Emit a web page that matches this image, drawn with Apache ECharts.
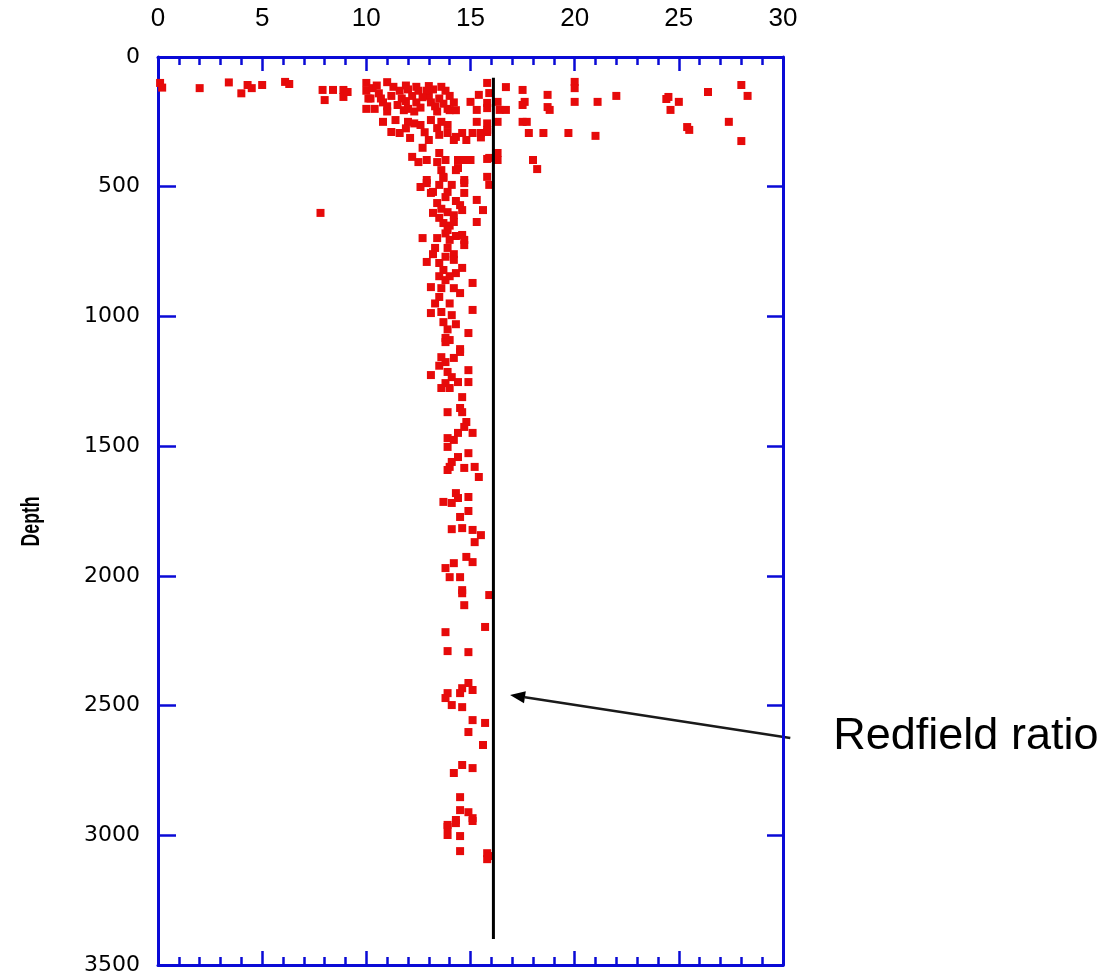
<!DOCTYPE html>
<html>
<head>
<meta charset="utf-8">
<title>N:P ratio vs depth</title>
<script src="https://cdn.jsdelivr.net/npm/echarts@6/dist/echarts.min.js"></script>
<style>
  html, body { margin: 0; padding: 0; background: #ffffff; }
  #chart { width: 1112px; height: 980px; }
</style>
</head>
<body>
<div id="chart"></div>
<script>
// N:P ratio samples, [ratio, depth in m], grouped by depth band
const upperPoints = [
  [0.1,100],[0.2,118],[2.0,120],[3.4,98],[4.3,108],[4.5,120],[4.0,140],[5.0,108],[6.1,96],[6.3,104],
  [7.9,127],[8.4,127],[8.9,127],[8.0,166],[8.9,154],[9.1,135],
  [10.0,100],[10.0,130],[10.1,160],[10.0,200],
  [11.0,97],[10.3,120],[10.6,140],[10.2,160],[10.8,175],[10.4,200],[11.0,190],
  [10.5,110],[11.3,115],[11.9,110],[12.4,115],[13.0,112],[13.6,115],
  [10.7,160],[11.2,150],[11.9,170],[12.4,175],[13.0,150],[13.7,180],[11.0,210],[11.8,205],[12.3,210],[13.4,210],
  [11.6,130],[12.0,125],[12.5,130],[12.9,130],[11.7,160],[12.2,150],[12.7,155],[11.5,185],[12.0,200],[12.6,195],[13.1,175],
  [13.2,125],[13.8,130],[13.5,160],[14.0,150],[13.3,190],[13.9,200],[14.2,175],[14.0,205],[14.3,205],
  [10.8,250],[11.4,243],[12.0,250],[12.3,256],[13.1,243],[13.6,250],[13.9,262],
  [12.6,262],[11.9,275],[12.8,290],[13.0,320],[14.8,320],[15.5,310],
  [11.2,289],[11.6,293],[12.1,312],[13.4,274],[13.5,300],[13.9,293],[14.3,308],[14.6,293],[14.2,320],
  [15.1,293],[15.5,293],[15.8,289],[15.3,250],[15.8,256],[15.8,281],
  [15.0,173],[15.4,146],[15.9,139],[15.8,100],[15.8,177],[15.3,204],[15.8,197],
  [16.3,173],[16.4,204],[16.7,204],[16.3,250],[16.7,116],
  [17.5,127],[17.6,173],[17.5,185],[17.5,250],[17.7,250],[17.8,293],
  [18.5,293],[18.7,146],[18.7,193],[18.8,204],[19.7,293],[20.0,96],[20.0,120],[20.0,173],
  [21.1,173],[22.0,150],[24.4,162],[24.5,154],[25.0,173],[24.6,204],[25.4,270],[25.5,281],
  [26.4,135],[28.0,108],[28.3,150],[27.4,250],[28.0,324],[21.0,304],
  [12.7,350],[13.5,370],[12.2,385],[12.5,405],[12.9,397],[13.4,405],[13.8,397],[14.4,397],[14.7,397],
  [15.0,397],[15.8,393],[16.3,370],[16.3,397],[18.0,397],[18.2,432],
  [13.6,436],[14.3,436],[13.7,462],[15.8,462],[12.9,474],[14.7,474],
  [15.9,389],[14.4,428],[13.7,466],[12.9,486],[13.5,493],[14.1,493],[14.7,486],[15.9,493],[12.6,501]
];

const middlePoints = [
  [13.1,524],[13.8,540],[14.7,524],[15.3,551],[13.4,563],[14.5,571],[15.6,590],[13.2,601],[13.9,598],[14.6,590],[7.8,601],
  [13.2,520],[13.9,520],[14.3,555],[13.6,585],[14.2,610],[13.5,620],[14.0,650],[13.8,680],[14.3,690],
  [13.7,640],[14.2,636],[15.3,636],[13.9,667],[14.6,686],[12.7,698],[13.4,698],[14.0,705],[14.7,725],
  [13.3,736],[13.9,736],[14.7,705],[13.2,760],[13.8,770],[14.2,760],
  [12.9,790],[13.5,794],[14.2,782],[14.6,813],[13.7,821],[14.3,833],[13.5,845],[14.0,845],[13.8,860],
  [13.1,887],[13.6,891],[14.2,891],[14.5,910],[15.1,871],[13.5,925],[13.3,950],[14.0,950],
  [13.1,987],[13.6,983],[14.1,995],[13.7,1022],[15.1,975],[14.3,1030],[13.9,1050],[14.9,1064],
  [13.8,1083],[14.0,1091],[14.5,1126],[13.8,1099],[14.5,1137],[13.6,1157],[14.2,1160],[13.8,1176],[13.5,1190],
  [13.1,1226],[13.9,1214],[14.1,1234],[13.8,1257],[14.4,1253],[14.9,1207],[14.9,1253],[13.6,1276],[14.0,1276],
  [14.6,1311],[13.9,1369],[14.5,1353],[14.6,1369],[14.8,1407],[14.7,1426],[15.1,1449],[14.4,1449],
  [13.9,1469],[13.9,1503],[14.2,1476]
];

const deepPoints = [
  [14.9,1527],[14.4,1542],[14.1,1561],[14.0,1580],[13.9,1592],[14.7,1584],[15.2,1580],[15.4,1619],
  [14.3,1681],[14.9,1696],[13.7,1715],[14.1,1719],[14.4,1700],[14.9,1750],[14.5,1773],
  [14.1,1820],[14.6,1816],[15.1,1823],[15.5,1843],[15.2,1870],
  [14.8,1927],[15.1,1947],[14.2,1951],[13.8,1970],[14.0,2005],[14.5,2005],[14.6,2055],
  [14.6,2067],[15.9,2074],[14.7,2113],[15.7,2197],[13.8,2217],[13.9,2290],[14.9,2294],
  [14.9,2413],[14.6,2433],[15.1,2440],[13.9,2452],[14.5,2452],[13.8,2471],[14.1,2498],[14.6,2506],
  [15.1,2556],[15.7,2567],[14.9,2602],[15.6,2652],
  [14.6,2729],[15.1,2741],[14.2,2760],[14.5,2853],
  [14.5,2903],[14.9,2911],[15.1,2934],[14.3,2941],[13.9,2968],[13.9,2960],[14.3,2953],[15.1,2945],
  [13.9,2999],[14.5,3003],[14.5,3061],[15.8,3069],[15.8,3092],[15.9,3080]
];

// Redfield reference line (N:P) and its depth span
const redfieldRatio = 16.1;
const redfieldDepths = [80, 3400];

// Annotation arrow: tail beside the label, head next to the reference line
const arrowFrom = [30.35, 2625];
const arrowTo = [16.9, 2459];

const ratioTicks = { min: 0, max: 30, step: 5 };
const depthTicks = { min: 0, max: 3500, step: 500 };
const depthTitle = 'Depth';
const annotationText = 'Redfield ratio';

const axisBlue = '#0a0ad6';
const pointRed = '#e60a0a';

const chart = echarts.init(document.getElementById('chart'), null, { renderer: 'canvas' });

function pointSeries(name, data) {
  return {
    name, type: 'scatter', xAxisIndex: 0, yAxisIndex: 0,
    symbol: 'rect', symbolSize: 8, data,
    itemStyle: { color: pointRed, opacity: 1 }, silent: true
  };
}

chart.setOption({
  animation: false,
  backgroundColor: '#ffffff',
  grid: { left: 158, right: 329, top: 57, bottom: 15, containLabel: false },
  xAxis: [
    {
      type: 'value', position: 'top',
      min: ratioTicks.min, max: ratioTicks.max, interval: ratioTicks.step,
      axisLine: { show: true, lineStyle: { color: axisBlue, width: 3 } },
      axisTick: { show: true, inside: true, length: 14, lineStyle: { color: axisBlue, width: 2.5 } },
      minorTick: { show: true, splitNumber: 5, length: 8, lineStyle: { color: axisBlue, width: 2.5 } },
      axisLabel: {
        margin: 25, color: '#000', fontSize: 26,
        fontFamily: '"Liberation Sans Narrow", "Liberation Sans", Arial, sans-serif'
      },
      splitLine: { show: false }
    },
    {
      type: 'value', position: 'bottom',
      min: ratioTicks.min, max: ratioTicks.max, interval: ratioTicks.step,
      axisLine: { show: true, onZero: false, lineStyle: { color: axisBlue, width: 3 } },
      axisTick: { show: true, inside: true, length: 14, lineStyle: { color: axisBlue, width: 2.5 } },
      minorTick: { show: true, splitNumber: 5, length: 8, lineStyle: { color: axisBlue, width: 2.5 } },
      axisLabel: { show: false },
      splitLine: { show: false }
    }
  ],
  yAxis: [
    {
      type: 'value', position: 'left', inverse: true,
      min: depthTicks.min, max: depthTicks.max, interval: depthTicks.step,
      axisLine: { show: true, onZero: false, lineStyle: { color: axisBlue, width: 3 } },
      axisTick: { show: true, inside: true, length: 18, lineStyle: { color: axisBlue, width: 2.5 } },
      axisLabel: {
        margin: 18, color: '#000', fontSize: 22,
        fontFamily: '"DejaVu Sans", sans-serif',
        formatter: v => String(v)
      },
      splitLine: { show: false }
    },
    {
      type: 'value', position: 'right', inverse: true,
      min: depthTicks.min, max: depthTicks.max, interval: depthTicks.step,
      axisLine: { show: true, onZero: false, lineStyle: { color: axisBlue, width: 3 } },
      axisTick: { show: true, inside: true, length: 16, lineStyle: { color: axisBlue, width: 2.5 } },
      axisLabel: { show: false },
      splitLine: { show: false }
    }
  ],
  series: [
    pointSeries('upper', upperPoints),
    pointSeries('middle', middlePoints),
    pointSeries('deep', deepPoints),
    {
      name: 'Redfield', type: 'line', xAxisIndex: 0, yAxisIndex: 0,
      data: redfieldDepths.map(d => [redfieldRatio, d]),
      showSymbol: false, symbol: 'none',
      lineStyle: { color: '#000', width: 3 }, silent: true
    }
  ]
});

// Arrow, annotation label and the rotated depth title, positioned from axis coordinates
const toPx = p => chart.convertToPixel({ xAxisIndex: 0, yAxisIndex: 0 }, p);
const tail = toPx(arrowFrom);
const head = toPx(arrowTo);
const ang = Math.atan2(head[1] - tail[1], head[0] - tail[0]);
const headLen = 15, headHalf = 6;
const baseX = head[0] - Math.cos(ang) * headLen;
const baseY = head[1] - Math.sin(ang) * headLen;
const nx = -Math.sin(ang), ny = Math.cos(ang);
const titleCenter = toPx([0, 1790]);

chart.setOption({
  graphic: [
    {
      type: 'line', silent: true,
      shape: { x1: tail[0], y1: tail[1], x2: baseX, y2: baseY },
      style: { stroke: '#1a1a1a', lineWidth: 2.5 }
    },
    {
      type: 'polygon', silent: true,
      shape: { points: [
        [head[0], head[1]],
        [baseX + nx * headHalf, baseY + ny * headHalf],
        [baseX - nx * headHalf, baseY - ny * headHalf]
      ] },
      style: { fill: '#000' }
    },
    {
      type: 'text', left: tail[0] + 43, top: tail[1] - 24, silent: true,
      style: {
        text: annotationText, fill: '#000', fontSize: 45,
        fontFamily: '"Liberation Sans", Arial, sans-serif'
      }
    },
    {
      type: 'text', silent: true,
      x: titleCenter[0] - 126, y: titleCenter[1],
      rotation: Math.PI / 2, scaleX: 0.68,
      style: {
        text: depthTitle, fill: '#000', fontSize: 26, fontWeight: 'bold',
        fontFamily: '"Liberation Sans", Arial, sans-serif',
        align: 'center', verticalAlign: 'middle'
      }
    }
  ]
});
</script>
</body>
</html>
